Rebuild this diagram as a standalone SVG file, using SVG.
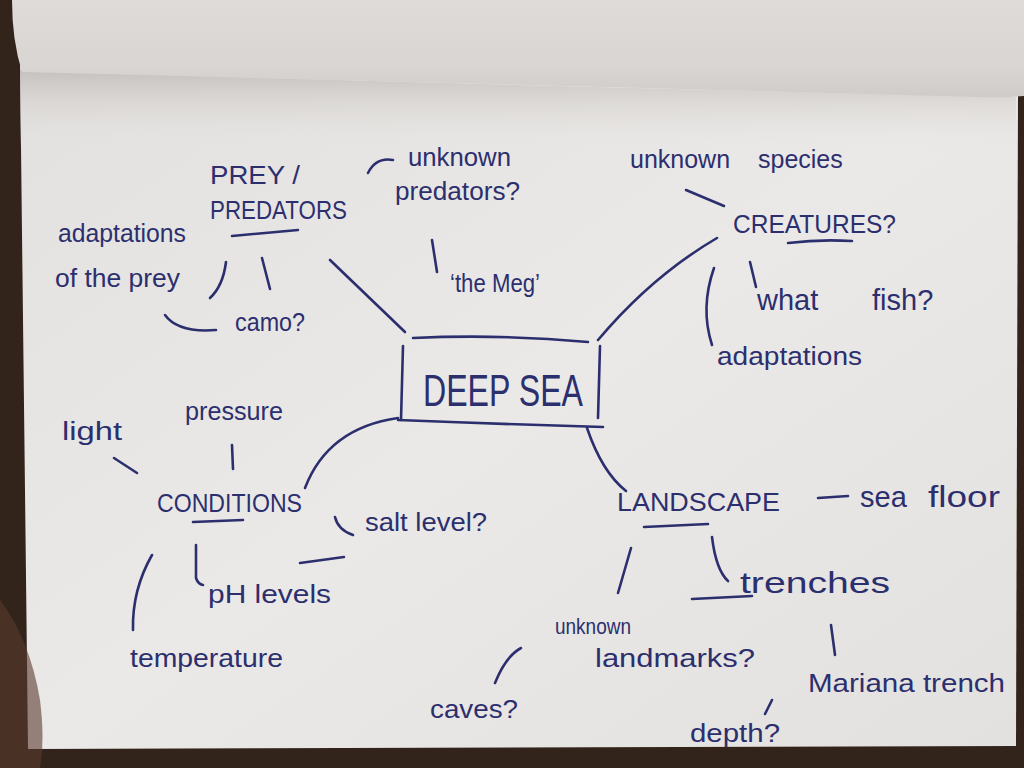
<svg xmlns="http://www.w3.org/2000/svg" width="1024" height="768" viewBox="0 0 1024 768">
<defs>
<linearGradient id="topPage" x1="0" y1="0" x2="0" y2="1">
<stop offset="0" stop-color="#dedbd8"/>
<stop offset="0.7" stop-color="#d8d5d2"/>
<stop offset="1" stop-color="#cfcbc8"/>
</linearGradient>
<linearGradient id="shade" x1="0" y1="0" x2="0" y2="1">
<stop offset="0" stop-color="#c2bdba" stop-opacity="0.9"/>
<stop offset="1" stop-color="#e8e6e4" stop-opacity="0"/>
</linearGradient>
<linearGradient id="paper" x1="0" y1="0" x2="1" y2="1">
<stop offset="0" stop-color="#e3e1df"/>
<stop offset="0.5" stop-color="#ebe9e7"/>
<stop offset="1" stop-color="#e3e1df"/>
</linearGradient>
<style>
.ink{fill:none;stroke:#2c2f6e;stroke-width:2.6;stroke-linecap:round;stroke-linejoin:round}
.t{font-family:"Liberation Sans","DejaVu Sans",sans-serif;font-size:25px;fill:#2c2f6e}
.cap{font-size:25px}
.big{font-size:44px}
.sm{font-size:22px}
.lg{font-size:29px}
</style>
</defs>
<g id="background">
<rect x="0" y="0" width="1024" height="768" fill="#33241b"/>
<path d="M20,60 L1018,90 L1016,746 L28,749 Z" fill="url(#paper)"/>
<path d="M20,70 Q500,86 1016,97 L1016,150 L20,150 Z" fill="url(#shade)"/>
<path d="M12,0 L1024,0 L1024,96 Q1000,98 980,97 Q500,84 22,72 Q12,40 12,0 Z" fill="url(#topPage)"/>
<path d="M0,600 Q30,640 40,700 Q45,740 40,768 L0,768 Z" fill="#5a3a2e" opacity="0.6"/>
</g>
<g id="connectors">
<path class="ink" d="M330,260 L405,332"/>
<path class="ink" d="M368,173 Q376,157 393,160"/>
<path class="ink" d="M432,240 L437,272"/>
<path class="ink" d="M226,262 Q223,286 210,298"/>
<path class="ink" d="M262,258 L270,289"/>
<path class="ink" d="M165,315 Q178,333 216,330"/>
<path class="ink" d="M717,238 Q652,276 598,340"/>
<path class="ink" d="M686,190 L724,206"/>
<path class="ink" d="M750,262 L756,287"/>
<path class="ink" d="M714,268 Q700,308 712,345"/>
<path class="ink" d="M398,418 Q328,428 305,488"/>
<path class="ink" d="M114,458 L137,473"/>
<path class="ink" d="M232,445 L233,469"/>
<path class="ink" d="M335,517 Q338,530 353,535"/>
<path class="ink" d="M300,563 L344,557"/>
<path class="ink" d="M196,545 L196,578 Q198,584 203,585"/>
<path class="ink" d="M152,555 Q132,590 133,630"/>
<path class="ink" d="M587,428 Q602,472 626,491"/>
<path class="ink" d="M818,498 L848,496"/>
<path class="ink" d="M631,548 L618,593"/>
<path class="ink" d="M712,537 Q716,570 728,581"/>
<path class="ink" d="M692,599 L752,596"/>
<path class="ink" d="M521,648 Q506,656 495,683"/>
<path class="ink" d="M831,625 L835,655"/>
<path class="ink" d="M772,700 L765,714"/>
</g>
<g id="deep-sea">
<path class="ink" d="M413,338 Q500,334 588,342"/>
<path class="ink" d="M403,346 L401,420"/>
<path class="ink" d="M398,420 Q500,424 603,427"/>
<path class="ink" d="M600,346 L598,418"/>
<text class="t big" x="423" y="406" textLength="160" lengthAdjust="spacingAndGlyphs">DEEP SEA</text>
</g>
<g id="prey-predators">
<text class="t cap" x="210" y="184" textLength="90" lengthAdjust="spacingAndGlyphs">PREY /</text>
<text class="t cap" x="210" y="219" textLength="137" lengthAdjust="spacingAndGlyphs">PREDATORS</text>
<path class="ink" d="M232,236 L298,230"/>
</g>
<g id="unknown-predators">
<text class="t" x="408" y="166" textLength="103" lengthAdjust="spacingAndGlyphs">unknown</text>
<text class="t" x="395" y="200" textLength="125" lengthAdjust="spacingAndGlyphs">predators?</text>
</g>
<g id="the-meg">
<text class="t" x="450" y="292" textLength="90" lengthAdjust="spacingAndGlyphs">‘the Meg’</text>
</g>
<g id="adaptations-prey">
<text class="t" x="58" y="242" textLength="128" lengthAdjust="spacingAndGlyphs">adaptations</text>
<text class="t" x="55" y="287" textLength="125" lengthAdjust="spacingAndGlyphs">of the prey</text>
</g>
<g id="camo">
<text class="t" x="235" y="331" textLength="70" lengthAdjust="spacingAndGlyphs">camo?</text>
</g>
<g id="unknown-species">
<text class="t" x="630" y="168">unknown <tspan x="758">species</tspan></text>
</g>
<g id="creatures">
<text class="t cap" x="733" y="233" textLength="163" lengthAdjust="spacingAndGlyphs">CREATURES?</text>
<path class="ink" d="M788,243 Q820,239 852,241"/>
</g>
<g id="what-fish">
<text class="t lg" x="757" y="310">what <tspan x="872">fish?</tspan></text>
</g>
<g id="adaptations-creatures">
<text class="t" x="717" y="365" textLength="145" lengthAdjust="spacingAndGlyphs">adaptations</text>
</g>
<g id="conditions">
<text class="t cap" x="157" y="512" textLength="145" lengthAdjust="spacingAndGlyphs">CONDITIONS</text>
<path class="ink" d="M193,522 L243,520"/>
</g>
<g id="light">
<text class="t" x="62" y="440" textLength="60" lengthAdjust="spacingAndGlyphs">light</text>
</g>
<g id="pressure">
<text class="t" x="185" y="420" textLength="98" lengthAdjust="spacingAndGlyphs">pressure</text>
</g>
<g id="salt-level">
<text class="t" x="365" y="531" textLength="122" lengthAdjust="spacingAndGlyphs">salt level?</text>
</g>
<g id="ph-levels">
<text class="t" x="208" y="603" textLength="123" lengthAdjust="spacingAndGlyphs">pH levels</text>
</g>
<g id="temperature">
<text class="t" x="130" y="667" textLength="153" lengthAdjust="spacingAndGlyphs">temperature</text>
</g>
<g id="landscape">
<text class="t cap" x="617" y="511" textLength="163" lengthAdjust="spacingAndGlyphs">LANDSCAPE</text>
<path class="ink" d="M644,527 L708,524"/>
</g>
<g id="sea-floor">
<text class="t lg" x="860" y="507">sea <tspan x="928" textLength="72" lengthAdjust="spacingAndGlyphs">floor</tspan></text>
</g>
<g id="trenches">
<text class="t lg" x="740" y="593" textLength="150" lengthAdjust="spacingAndGlyphs">trenches</text>
</g>
<g id="unknown-landmarks">
<text class="t sm" x="555" y="634" textLength="76" lengthAdjust="spacingAndGlyphs">unknown</text>
<text class="t" x="595" y="667" textLength="160" lengthAdjust="spacingAndGlyphs">landmarks?</text>
</g>
<g id="caves">
<text class="t" x="430" y="718" textLength="88" lengthAdjust="spacingAndGlyphs">caves?</text>
</g>
<g id="mariana-trench">
<text class="t" x="808" y="692" textLength="197" lengthAdjust="spacingAndGlyphs">Mariana trench</text>
</g>
<g id="depth">
<text class="t" x="690" y="742" textLength="90" lengthAdjust="spacingAndGlyphs">depth?</text>
</g>
</svg>
